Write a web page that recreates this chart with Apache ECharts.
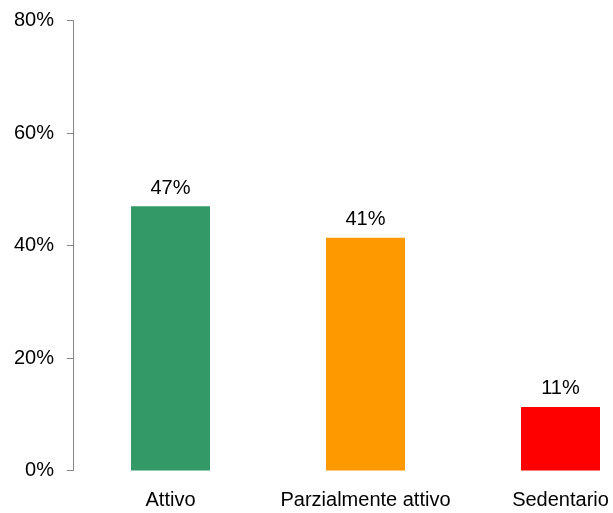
<!DOCTYPE html>
<html>
<head>
<meta charset="utf-8">
<style>
  html, body { margin: 0; padding: 0; background: #ffffff; }
  #chart { width: 613px; height: 513px; }
</style>
<script src="https://cdn.jsdelivr.net/npm/echarts@6/dist/echarts.min.js"></script>
</head>
<body>
<div id="chart"></div>
<script>
// Activity level categories and their share of respondents (%)
const categories = ['Attivo', 'Parzialmente attivo', 'Sedentario'];
const shares = [47, 41.4, 11.3];
const barColors = ['#339966', '#FF9900', '#FF0000'];
const yTicks = { min: 0, max: 80, step: 20 };

const FONT = '"Liberation Sans", Arial, sans-serif';

const chart = echarts.init(document.getElementById('chart'), null, { renderer: 'canvas' });

chart.setOption({
  animation: false,
  backgroundColor: '#ffffff',
  // plot area runs past the right edge of the canvas, so the last band is cut off
  grid: {
    left: 73, width: 585, top: 20.5, bottom: 42.5,
    containLabel: false,
    outerBoundsMode: 'none'
  },
  xAxis: {
    type: 'category',
    data: categories,
    axisLine: { show: false },
    axisTick: { show: false },
    axisLabel: {
      color: '#000000',
      fontFamily: FONT,
      fontSize: 20,
      margin: 20,
      interval: 0
    }
  },
  yAxis: {
    type: 'value',
    min: yTicks.min,
    max: yTicks.max,
    interval: yTicks.step,
    splitLine: { show: false },
    axisLine: { show: true, lineStyle: { color: '#868686', width: 1 } },
    axisTick: { show: true, length: 6, lineStyle: { color: '#868686', width: 1 } },
    axisLabel: {
      color: '#000000',
      fontFamily: FONT,
      fontSize: 20,
      margin: 19,
      formatter: '{value}%'
    }
  },
  series: [{
    type: 'bar',
    barWidth: 79,
    data: shares.map((v, i) => ({ value: v, itemStyle: { color: barColors[i] } })),
    label: {
      show: true,
      position: 'top',
      distance: 8,
      color: '#000000',
      fontFamily: FONT,
      fontSize: 20,
      formatter: p => Math.round(p.value) + '%'
    }
  }]
});
</script>
</body>
</html>
